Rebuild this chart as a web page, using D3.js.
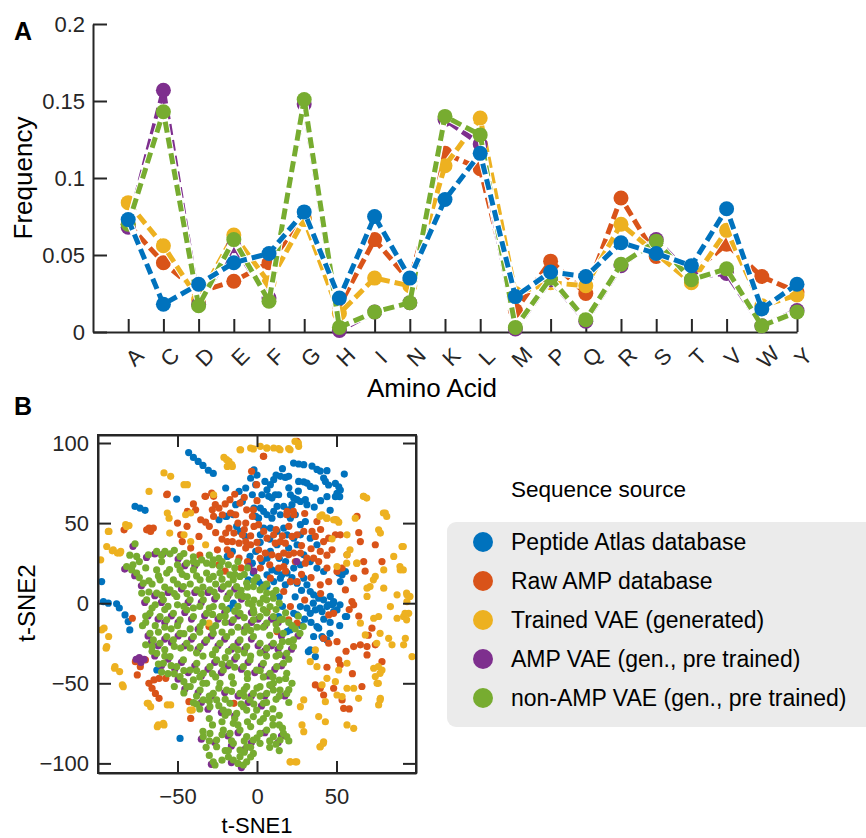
<!DOCTYPE html>
<html lang="en">
<head>
<meta charset="utf-8">
<title>Amino acid frequency and t-SNE</title>
<script src="https://cdn.jsdelivr.net/npm/d3@7"></script>
<style>
body { margin: 0; background: #fff; }
text { font-family: "Liberation Sans", Arial, sans-serif; fill: #000; }
.axis path, .axis line { stroke: #262626; stroke-width: 2; }
.axis text { font-size: 22px; fill: #262626; }
</style>
</head>
<body>
<script>
// ---- data: panel A ----
var aminoAcids = ["A","C","D","E","F","G","H","I","N","K","L","M","P","Q","R","S","T","V","W","Y"];
var atlasFreq  = [0.073,0.018,0.031,0.045,0.051,0.078,0.022,0.075,0.035,0.086,0.116,0.023,0.039,0.036,0.058,0.051,0.043,0.080,0.015,0.031];
var rawAmpFreq = [0.070,0.045,0.026,0.033,0.045,0.074,0.017,0.060,0.033,0.116,0.106,0.014,0.046,0.025,0.087,0.049,0.038,0.057,0.036,0.026];
var trainedFreq= [0.084,0.056,0.021,0.063,0.032,0.073,0.012,0.035,0.030,0.108,0.139,0.025,0.032,0.030,0.070,0.051,0.032,0.066,0.017,0.024];
var ampVaeFreq = [0.068,0.157,0.018,0.056,0.022,0.148,0.001,0.013,0.019,0.138,0.122,0.002,0.034,0.007,0.043,0.060,0.036,0.038,0.004,0.014];
var nonAmpFreq = [0.070,0.143,0.017,0.060,0.020,0.151,0.003,0.013,0.019,0.140,0.128,0.003,0.035,0.008,0.044,0.059,0.034,0.041,0.004,0.013];
var freqTicks = [0, 0.05, 0.1, 0.15, 0.2];

// ---- data: panel B (t-SNE1, t-SNE2) ----
var atlasPts = [[-43,94],[-40,91],[-37,88.5],[-34,86],[-30.6,83],[-27.5,81],
[-76.7,60.4],[-73.6,59.4],[-70.4,58],[-50.5,65],
[-97.7,13.5],[-96.6,1],[-93.5,0],[-88.3,-0.4],[-86.6,-3],[-83,-7.3],[-81,-11.5],[-80,-16.7],
[-63,-41.7],[-48.4,-84.4],
[23,87.5],[26.2,86.9],[29.4,86.5],[34.6,85.6],[37.7,83.5],[39.8,82.5],[44,82.7],
[41.9,78.1],[43,76],[45,73.8],[49.3,74.8],[51.4,72.7],[52.4,70.6],[54.9,80.6],[50.3,68.5],[52,66.5],[49.3,66.5],[44,66.5],
[26.2,76],[29.4,75.8],[31.4,75],[33.5,72.9],[36.7,71.9],[14.7,79.2],[17.8,78.5],[19.9,79.2],[10.5,77.1],[8.4,74],[6.3,70.8],[3.1,67.7],[7.3,66.7],[9.4,65.6],[11.5,67.7],[13.6,67.7],
[21,67.7],[23.1,65.6],[25.2,64.6],[27.3,63.5],[30.4,64.6],[31.4,61.5],[22,61.5],[19.9,58.3],[16.8,60.4],[12.6,60.4],[10.5,57.3],[6.3,55.2],[4.2,57.3],[2.1,59.4],[1,53.1],[9.4,53.1],[14.7,55.2],[21,53.1],[24.1,55.2],[27.3,49],[30.4,51],[16.8,46.9],[12.6,44.8],[8.4,46.9],[4.2,46.9],[2.1,42.7],[18.9,42.7],[23.1,40.6],[27.3,42.7],[33.5,40.6],[37.7,36.5],[25.2,36.5],[19.9,34.4],[12.6,36.5],[8.4,32.3],[6.3,28.1],[3.1,26],[29.4,30.2],[33.5,26],[37.7,21.9],[41.9,19.8],[27.3,24],[23.1,21.9],[18.9,18.8],[15.7,17.7],[12.6,19.8],[9.4,20.8],[6.3,17.7],[10.5,13.5],[14.7,15.6],[17.8,11.5],[21,13.5],[25.2,12.5],[29.4,15.6],[31.4,11.5],[33.5,7.3],[35.6,5.2],[38.8,3.1],[41.9,2.1],[46.1,4.2],[48.2,1],[51.4,18.8],[53.5,17.7],[52.4,13.5],[55.6,19.8],[6.3,10.4],[3.1,11.5],[1,13.5],
[-19.1,54.2],[-14.9,55.2],[-12.8,47.9],[-10.7,44.8],[-7.5,41.7],[-4.4,29.2],[-2.3,18.8],[-5.5,14.6],[-14.9,0],[-17,-3.1],
[-19.7,71.9],[-11.3,69.8],[-9.2,63.5],[-7.1,71.9],[-2.9,67.7],[-0.8,74],[-1.9,83.3],[-13.4,61.5],[-23.9,52.1],[-19.7,54.2],[-1.9,59.4],[-0.8,54.2],[-15.5,32.3],[-0.8,32.3],[-2.9,25],[-18.7,29.2],
[27.3,-2.1],[31.4,-3.1],[33.5,-6.3],[36.7,-4.2],[40.9,-5.2],[44,-2.1],[47.2,-1],[48.2,-5.2],[50.3,-4.2],[55.6,-8.3],[23.1,-6.3],[25.2,-7.3],[21,-16.7],[18.9,-17.7],[37.7,-14.6],[38.8,-15.6],[35.6,-20.8],[40.9,-20.8],[44,-22.9],[33.5,-29.2],[36.7,-33.3],[11.5,-9.4],[13.6,-8.3],
[35.4,0],[39.6,-3.1],[44.9,-1],[48,0],[52.2,-1],[56.4,-8.3],[41.7,-21.9],[45.9,-18.8],[32.3,-30.2],
[16,84],[12,80],[5,76],[0,80],[-4,78],[20,72],[26,70],[36,60],[40,64],[46,58],[2,38],[8,40],[14,28],[18,26],[22,16],[28,8],[24,4],[30,-10],[42,-10],[46,-12],[52,-14],[28,-14],[34,-12],[16,-2],[14,4]];

var rawAmpPts = [[-56.4,68.1],[-32.3,66.7],[-27.3,66.7],[-26.2,61.5],[-23.9,59.4],[-38.6,58.3],[-35.4,52.1],[-32.3,50.6],[-27.3,54.2],[-21.8,55.2],[-16.6,56.3],[-13.4,55.2],[-7.1,50],[-2.9,54.2],[-1.9,47.9],[-17.6,46.9],[-19.7,43.8],[-14.5,43.8],[-18.7,38.5],[-15.5,38.5],[-11.3,37.5],[-7.1,38.5],[-4,36.5],[-9.2,42.7],[-18.7,33.3],[-16.6,30.2],[-11.3,28.1],[-7.1,34.4],[-24.9,33.3],[-36.5,41.7],[-47,38.5],[-41.7,34.4],[-67.9,46.9],[-66.9,44.8],[-83.6,45.8],[-43.8,57.3],[-48,42.7],[-28.1,58.3],
[4,91.7],[-3.4,82.3],[-0.2,74],[-17,64.6],[-10.7,62.5],[-6.5,58.3],[-2.3,58.3],[-32.7,66.7],[-28.5,68.8],[22.9,57.3],[18.7,55.2],[-56.8,67.7],[-65.2,46.9],[-69.4,45.8],
[25.2,101],[4.2,91.7],[18.9,57.3],[23.1,55.2],[1,49],[4.2,44.8],[6.3,40.6],[10.5,42.7],[11.5,37.5],[14.7,38.5],[17.8,37.5],[22,41.7],[25.2,42.7],[29.4,44.8],[34.6,44.8],[37.7,51],[36.7,41.7],[41.9,38.5],[45.1,40.6],[49.3,42.7],[52.4,42.7],[47.2,33.3],[39.8,32.3],[35.6,28.1],[31.4,28.1],[27.3,31.3],[23.1,31.3],[19.9,30.2],[16.8,31.3],[13.6,29.2],[9.4,30.2],[5.2,31.3],[1,33.3],[2.1,21.9],[13.6,21.9],[16.8,22.9],[24.1,26],[30.4,25],[38.8,26],[44,21.9],[50.3,19.8],[53.5,21.9],[56.6,30.2],[60.8,15.6],[65,38.5],[67.1,26],[74.4,36.5],[78.6,26],[45.1,13.5],[39.8,11.5],[55.6,8.3],[59.7,1],[25.2,13.5],[21,13.5],[16.8,7.3],[8.4,15.6],[49.3,52.1],[62.9,54.2],
[21,-2.1],[45.1,-7.3],[48.2,-6.3],[60.8,-1],[12.6,-17.7],[41.9,-21.9],[45.1,-25],[50.3,-24],[51.4,-35.4],[52.4,-38.5],[60.8,-27.1],[65,-26],[69.2,-27.1],[69.2,-32.3],[72.3,-15.6],[74.4,-26],[78.6,-36.5],[36.7,-51],[39.8,-53.1],[41.9,-57.3],[53.5,-60.4],[54.5,-65.6],[48.2,-53.1],[25.2,-12.5],[6.3,-5.2],[19.9,-10.4],
[-78.4,-9.4],[-76.5,-36.5],[-73.4,-39.6],[-70.2,-35.4],[-75.3,-44.8],[-68,-50],[-64.8,-47.9],[-61.6,-46.9],[-57.4,-46.9],[-66,-53.1],[-63.9,-56.3],[-61.6,-59.4],[-42.8,-61.5],[-41.7,-71.9],[-14.5,-62.5],[-30.2,-14.6],
[-30,48],[-26,44],[-22,40],[-12,50],[-8,46],[-4,42],[-24,24],[-20,20],[-36,30],[-10,22],[-6,26],[0,38],[2,28],[8,24],[12,46],[16,42],[20,48],[28,36],[34,34],[40,46],[44,30],[30,56],[-40,62],[-44,48],[-50,50],[-20,62],[-14,68],[-8,66],[0,64],[18,20],[28,18],[34,16],[40,6],[30,2],[64,44],[68,20],[58,-4],[64,-8],[70,-20],[56,-30],[44,-40],[60,-44],[66,-52],[58,-66]];

var trainedPts = [[-10.3,95.8],[-4,96.9],[-20.8,91],[-17.6,88.5],[-15.5,85.4],[-18.7,85.4],[-58.5,81.3],[-54.3,79.2],[-67.9,69.8],[-43.8,74],[-45.9,74],[-27.3,67.7],[-56.4,56.3],[-55.3,53.1],[-44.9,55.2],[-41.7,56.3],[-82.6,49],[-80.5,48.5],[-93.1,44.8],[-54.9,43.8],[-45.9,42.7],[-32.3,36.5],[-41.7,38.5],[-91,32.7],[-87.8,31.3],[-85.7,32.3],[-98.3,27.1],
[2.1,97.9],[6.3,96.9],[10.5,96.9],[13.6,96.5],[19.9,96.5],[26.2,97.9],[67.1,66.7],[40.9,55.2],[44,53.1],[48.2,52.1],[51.4,50.6],[61.8,53.1],[80.7,56.3],[76.5,45.8],[77.6,43.8],[56.6,42.7],[47.2,40.2],[91.2,35.4],[86,29.2],[56.6,30.2],[50.3,22.9],[62.9,25],[74.4,16.7],[79.7,20.8],[90.1,20.8],[69.2,9.4],[69.2,4.2],[79.7,9.4],[88.1,5.2],[94.3,5.2],[94.3,1],
[73.4,-9.4],[76.5,-8.3],[83.9,-2.1],[88.1,-9.4],[92.2,-8.3],[95.4,-6.3],[65,-12.5],[68.1,-19.8],[82.8,-21.9],[84.9,-26],[92.2,-26],[93.3,-21.9],[97.5,-33.3],[33.5,-36.5],[37.7,-39.6],[51.4,-41.7],[56.6,-37.5],[73.4,-40.6],[74.4,-45.8],[78.6,-41.7],[75.5,-50],[44,-46.9],[40.9,-51],[49.3,-49],[50.3,-57.3],[53.5,-58.3],[43,-61.5],[56.6,-53.1],[60.8,-53.1],[63.9,-59.4],[77.6,-59.4],[76.5,-63.5],[29.4,-60.4],[27.3,-64.6],[38.8,-70.8],[43,-74],[39.8,-89.6],[41.9,-86.5],[28.3,-76],[29.4,-80.2],[56.6,-76],[60.8,-78.1],[21,-99],[24.1,-99],[36.7,-29.2],
[-96.2,-15.6],[-93.3,-20.8],[-94.9,-28.1],[-89.6,-40.6],[-86.4,-42.7],[-84.7,-51],[-69,-62.5],[-66.9,-64.6],[-56.4,-63.5],[-54.3,-63.5],[-62.7,-77.1],[-58.5,-76],[-39.6,-62.5],[-40.7,-66.7],[-30.2,-12.5],
[79.5,56.3],[81.6,54.2],[69,65.6],[66.9,66.7],[92,35.4],[89.9,22.9],[92,20.8],[94.1,6.3],[96.2,4.2],[93.1,-6.3],[94.1,-10.4],[77.4,-18.8],[75.3,-25],[76.3,-39.6],[77.4,-43.8],[76.3,-50],[77.4,-60.4],[73.2,14.6],[71.1,10.4],[58.5,33.3],[56.4,25],[62.7,25],[39.6,54.2],[43.8,53.1],[50.1,52.1],
[-19.1,89.6],[-15.9,86.5],[-10.7,95.8],[-2.3,96.3],[6.1,96.9],[14.5,95.8],[20.8,95.8],[26,100],[23.9,101],
[-94.5,35.4],[-90.4,33.3],[-86.2,31.3],[-82,47.9],[-93.5,44.8],[-97.7,-16.7],[-94.5,-27.1],[-89.3,-39.6],[-84.1,-52.1],[-68.3,-62.5],[-62.1,-76],[-58.9,-75],[-42.1,-66.7],
[20.8,-99],[25,-99],[39.6,-89.6],[41.7,-87.5]];

var ampVaePts = [[-78,35.5],[-69.5,28.6],[-64.3,30.7],[-59.1,30.7],[-49.6,27.6],[-45.4,23.4],[-39.1,23.4],[-83.2,21.3],[-76.9,17.2],[-72.7,10.9],[-70.6,0.5],[-64.3,4.7],[-60.1,0.5],[-55.9,6.7],[-47.5,8.8],[-43.3,0.5],[-39.1,6.7],[-35,0.5],[-30.8,6.7],[-26.6,2.6],[-22.4,8.8],[-18.2,4.7],[-14,8.8],[-9.8,2.6],[-3.5,-5.8],
[-68.5,-7.9],[-62.2,-9.9],[-58,-12],[-53.8,-7.9],[-49.6,-12],[-45.4,-5.8],[-41.2,-9.9],[-37,-16.2],[-32.9,-7.9],[-24.5,-9.9],[-20.3,-5.8],[-16.1,-12],[-11.9,-7.9],[-7.7,-16.2],[-3.5,-12],[0.7,-9.9],[4.9,-14.1],[9.1,-9.9],[13.3,-12],[15.4,-20.4],
[-68.5,-20.4],[-66.4,-24.5],[-62.2,-26.6],[-58,-22.4],[-53.8,-24.5],[-49.6,-20.4],[-45.4,-26.6],[-41.2,-22.4],[-37,-28.7],[-32.9,-24.5],[-28.7,-20.4],[-24.5,-26.6],[-20.3,-22.4],[-16.1,-28.7],[-11.9,-24.5],[-7.7,-28.7],[-3.5,-22.4],[0.7,-26.6],[4.9,-29.7],[9.1,-26.6],[13.3,-28.7],[17.5,-32.9],[21.7,-28.7],[25.8,-20.4],
[-64.3,-32.9],[-60.1,-39.1],[-55.9,-34.9],[-51.7,-41.2],[-47.5,-37],[-43.3,-43.3],[-39.1,-39.1],[-35,-45.4],[-30.8,-41.2],[-26.6,-37],[-22.4,-43.3],[-18.2,-39.1],[-14,-34.9],[-9.8,-41.2],[-5.6,-37],[-1.4,-43.3],[2.8,-39.1],[7,-45.4],[11.2,-41.2],[15.4,-39.1],
[-49.6,-47.4],[-45.4,-53.7],[-37,-55.8],[-28.7,-57.9],[-20.3,-55.8],[-11.9,-57.9],[-3.5,-57.9],[4.9,-57.9],[9.1,-51.6],[17.5,-57.9],[-35,-62],[-30.8,-66.2],[-22.4,-68.3],[-14,-70.4],[-5.6,-62],[2.8,-64.1],
[-35,-84.9],[-26.6,-87],[-18.2,-82.9],[-11.9,-80.8],[-3.5,-87],[4.9,-80.8],[13.3,-87],[15.4,-82.9],[-16.1,-89.1],[-7.7,-91.2],[-28.7,-100.6],[-16.1,-99.5],[-9.8,-102.6],
[-76,-35],[-73,-37],[-71,-35],[-74,-34],[25,26],[-5,23],[-2,20]];

var nonAmpPts = [[-76.7,37.1],[-68.3,30.2],[-63.1,32.3],[-57.9,32.3],[-54.7,30.8],[-48.4,29.2],[-44.2,25],[-37.9,25],[-34.8,27.1],[-31.7,25],
[-82,22.9],[-78.8,20.8],[-75.7,18.8],[-71.5,12.5],[-72.5,6.3],[-69.4,2.1],[-63.1,20.8],[-61,14.6],[-56.8,18.8],[-52.6,14.6],[-48.4,20.8],[-44.2,16.7],[-40,20.8],[-35.8,14.6],[-31.7,18.8],[-27.5,16.7],[-23.3,18.8],[-17,17.7],[-10.7,16.7],[-6.5,12.5],[-2.3,10.4],[1.9,8.3],[6.1,6.3],[10.3,3.1],[6.1,2.1],[1.9,0],[8.2,-2.1],
[-63.1,6.3],[-58.9,2.1],[-54.7,8.3],[-50.5,4.2],[-46.3,10.4],[-42.1,2.1],[-37.9,8.3],[-33.8,2.1],[-29.6,8.3],[-25.4,4.2],[-21.2,10.4],[-17,6.3],[-12.8,10.4],[-8.6,4.2],[-5.5,0],[-2.3,-4.2],
[-67.3,-6.3],[-61,-8.3],[-56.8,-10.4],[-52.6,-6.3],[-48.4,-10.4],[-44.2,-4.2],[-40,-8.3],[-35.8,-14.6],[-31.7,-6.3],[-27.5,-2.1],[-23.3,-8.3],[-19.1,-4.2],[-14.9,-10.4],[-10.7,-6.3],[-6.5,-14.6],[-2.3,-10.4],[1.9,-8.3],[6.1,-12.5],[10.3,-8.3],[14.5,-10.4],[16.6,-18.8],[12.4,-16.7],
[-67.3,-18.8],[-65.2,-22.9],[-61,-25],[-56.8,-20.8],[-52.6,-22.9],[-48.4,-18.8],[-44.2,-25],[-40,-20.8],[-35.8,-27.1],[-31.7,-22.9],[-27.5,-18.8],[-23.3,-25],[-19.1,-20.8],[-14.9,-27.1],[-10.7,-22.9],[-6.5,-27.1],[-2.3,-20.8],[1.9,-25],[6.1,-28.1],[10.3,-25],[14.5,-27.1],[18.7,-31.3],[22.9,-27.1],[27,-18.8],[22.9,-22.9],
[-63.1,-31.3],[-58.9,-37.5],[-54.7,-33.3],[-50.5,-39.6],[-46.3,-35.4],[-42.1,-41.7],[-37.9,-37.5],[-33.8,-43.8],[-29.6,-39.6],[-25.4,-35.4],[-21.2,-41.7],[-17,-37.5],[-12.8,-33.3],[-8.6,-39.6],[-4.4,-35.4],[-0.2,-41.7],[4,-37.5],[8.2,-43.8],[12.4,-39.6],[16.6,-37.5],[18.7,-43.8],
[-48.4,-45.8],[-44.2,-52.1],[-40,-47.9],[-35.8,-54.2],[-31.7,-50],[-27.5,-56.3],[-23.3,-50],[-19.1,-54.2],[-14.9,-50],[-10.7,-56.3],[-6.5,-52.1],[-2.3,-56.3],[1.9,-52.1],[6.1,-56.3],[10.3,-50],[14.5,-54.2],[18.7,-56.3],[10.3,-54.2],
[-33.8,-60.4],[-29.6,-64.6],[-25.4,-60.4],[-21.2,-66.7],[-17,-62.5],[-12.8,-68.8],[-8.6,-64.6],[-4.4,-60.4],[-0.2,-66.7],[4,-62.5],[6.1,-68.8],[-2.3,-70.8],[-6.5,-66.7],
[-33.8,-83.3],[-29.6,-81.3],[-25.4,-85.4],[-21.2,-79.2],[-17,-81.3],[-14.9,-75],[-10.7,-79.2],[-6.5,-83.3],[-2.3,-85.4],[1.9,-81.3],[6.1,-79.2],[10.3,-83.3],[14.5,-85.4],[16.6,-81.3],[-25.4,-89.6],[-14.9,-87.5],[-10.7,-91.7],[-6.5,-89.6],[-2.3,-93.8],[-27.5,-99],[-26.4,-101],[-14.9,-97.9],[-8.6,-101],[-6.5,-99],[-10.7,-95.8],[18.7,-83.3],[1.9,-87.5],
[-75.7,29.2],[-27.5,27.1],[-23.3,22.9],[-14.9,14.6],[29.1,-14.6],
[-64,-14],[-58,-15],[-50,-14],[-42,-16],[-34,-12],[-26,-14],[-20,-12],[-12,-15],[-4,-17],[4,-15],[12,-13],[20,-12],
[-58,-29],[-48,-28],[-38,-31],[-28,-32],[-18,-30],[-8,-31],[2,-31],[12,-33],[20,-35],
[-52,-44],[-46,-49],[-36,-46],[-26,-46],[-16,-46],[-6,-47],[4,-46],[14,-48],[22,-50],
[-38,-58],[-30,-58],[-20,-60],[-8,-58],[2,-58],[12,-60],[20,-62],
[-30,-72],[-22,-74],[-14,-72],[-6,-74],[2,-74],[10,-72],[14,-76],
[-32,-90],[-20,-92],[-4,-90],[8,-90],[14,-92],[-18,-96],
[-66,12],[-58,10],[-50,12],[-42,12],[-34,10],[-26,12],[-18,12],[-10,8],[-2,2],[4,-4],[-64,-1],[-56,-2],[-46,-2],[-36,-2],[-28,-7],[-20,-8],[-12,-2],[-6,4],[-70,22],[-60,26],[-50,24],[-40,26],[-30,30],[-24,28],[-18,24],[-12,26],[-6,22],[0,16],[6,12],[12,8],[14,0],[18,-6],[22,-14],[26,-8],
[-78,24],[-74,26],[-80,30],[-70,-8],[-72,-14],[-70,-26],[-66,-30],[-62,-38],[-56,-44],[-52,-52],[-46,-56],[-40,-62],[-36,-66],
[-60,30],[-52,33],[-46,31],[-40,29],[-28,24],[-22,26],[-14,22],[-8,18],[-2,14],[4,10],[10,6],
[-74,16],[-68,14],[-62,17],[-55,21],[-47,18],[-38,17],[-30,15],[-22,15],[-14,18],[-6,10],
[-68,7],[-60,5],[-52,6],[-44,6],[-35,6],[-27,7],[-19,3],[-12,5],[-3,-1],[4,3],[12,-4],
[-66,-3],[-58,-4],[-50,-1],[-40,-3],[-30,-3],[-22,-2],[-14,-5],[-8,-9],[-2,-6],[6,-6],[16,-10],
[-70,-12],[-62,-18],[-54,-16],[-46,-19],[-36,-18],[-28,-16],[-22,-18],[-16,-18],[-8,-18],[0,-15],[8,-20],[16,-24],[24,-16],
[-66,-27],[-58,-33],[-52,-27],[-42,-28],[-34,-33],[-26,-29],[-20,-34],[-12,-29],[-4,-33],[6,-33],[14,-32],[20,-24],
[-60,-43],[-54,-39],[-46,-42],[-38,-42],[-28,-44],[-22,-38],[-14,-40],[-6,-44],[2,-42],[10,-46],[18,-47],
[-42,-52],[-34,-50],[-24,-53],[-16,-55],[-8,-54],[0,-53],[8,-51],[14,-58],[20,-54],
[-38,-63],[-30,-61],[-24,-64],[-18,-68],[-10,-63],[-2,-63],[6,-62],[10,-66],[14,-70],
[-28,-76],[-20,-70],[-12,-76],[-4,-77],[4,-72],[10,-76],[16,-78],[-34,-80],
[-30,-86],[-22,-82],[-16,-86],[-8,-86],[0,-84],[8,-86],[12,-88],[20,-86],
[-30,-95],[-22,-98],[-18,-92],[-12,-100],[-4,-96],[-8,-93]];

var tsneTicks = [-50, 0, 50];
var tsneYTicks = [-100, -50, 0, 50, 100];

var seriesNames = ["Peptide Atlas database", "Raw AMP database", "Trained VAE (generated)",
                   "AMP VAE (gen., pre trained)", "non-AMP VAE (gen., pre trained)"];
var colors = ["#0072BD", "#D95319", "#EDB120", "#7E2F8E", "#77AC30"];

var svg = d3.select("body").append("svg")
    .attr("width", 866)
    .attr("height", 838);

// ================= Panel A =================
var xA = d3.scaleLinear().domain([0, 20]).range([93, 797]);
var yA = d3.scaleLinear().domain([0, 0.2]).range([332, 24]);

svg.append("g")
    .attr("class", "axis")
    .attr("transform", "translate(0,332)")
    .call(d3.axisBottom(xA)
        .tickValues(d3.range(1, 21))
        .tickSizeInner(-13).tickSizeOuter(0)
        .tickFormat(function(i) { return aminoAcids[i - 1]; }))
    .selectAll("text")
    .attr("y", 0).attr("dy", null)
    .attr("text-anchor", "middle")
    .attr("dominant-baseline", "central")
    .attr("transform", "translate(6,25) rotate(-45)");

svg.append("g")
    .attr("class", "axis")
    .attr("transform", "translate(93,0)")
    .call(d3.axisLeft(yA)
        .tickValues(freqTicks)
        .tickSizeInner(-14).tickSizeOuter(0).tickPadding(8)
        .tickFormat(function(d) { return String(d); }));

var lineA = d3.line()
    .x(function(d, i) { return xA(i + 1); })
    .y(function(d) { return yA(d); });

// draw order: orange, yellow, purple, green, blue on top
var freqSeries = [atlasFreq, rawAmpFreq, trainedFreq, ampVaeFreq, nonAmpFreq];
[1, 2, 3, 4, 0].forEach(function(k) {
    var g = svg.append("g");
    g.append("path")
        .attr("d", lineA(freqSeries[k]))
        .attr("fill", "none")
        .attr("stroke", "#fff")
        .attr("stroke-width", 7)
        .attr("stroke-linejoin", "round");
    g.append("path")
        .attr("d", lineA(freqSeries[k]))
        .attr("fill", "none")
        .attr("stroke", colors[k])
        .attr("stroke-width", 5)
        .attr("stroke-dasharray", "11,5");
    g.selectAll("circle")
        .data(freqSeries[k])
        .enter()
        .append("circle")
        .attr("cx", function(d, i) { return xA(i + 1); })
        .attr("cy", function(d) { return yA(d); })
        .attr("r", 7.5)
        .attr("fill", colors[k]);
});

svg.append("text")
    .attr("transform", "translate(32,178) rotate(-90)")
    .attr("text-anchor", "middle")
    .style("font-size", "26px")
    .text("Frequency");

svg.append("text")
    .attr("x", 432).attr("y", 397)
    .attr("text-anchor", "middle")
    .style("font-size", "26px")
    .text("Amino Acid");

svg.append("text")
    .attr("x", 14).attr("y", 40)
    .style("font-size", "25px").style("font-weight", "bold")
    .text("A");

// ================= Panel B =================
var xB = d3.scaleLinear().domain([-100, 100]).range([98, 416]);
var yB = d3.scaleLinear().domain([-106, 105]).range([773, 435]);

svg.append("text")
    .attr("x", 14).attr("y", 415)
    .style("font-size", "25px").style("font-weight", "bold")
    .text("B");

var ptSeries = [atlasPts, rawAmpPts, trainedPts, ampVaePts, nonAmpPts];
ptSeries.forEach(function(pts, k) {
    svg.append("g").selectAll("circle")
        .data(pts)
        .enter()
        .append("circle")
        .attr("cx", function(d) { return xB(d[0]); })
        .attr("cy", function(d) { return yB(d[1]); })
        .attr("r", 3.6)
        .attr("fill", colors[k]);
});

svg.append("g")
    .attr("class", "axis")
    .attr("transform", "translate(0,773)")
    .call(d3.axisBottom(xB).tickValues(tsneTicks)
        .tickSizeInner(-12).tickSizeOuter(0).tickPadding(15)
        .tickFormat(d3.format("d")));
svg.append("g")
    .attr("class", "axis")
    .attr("transform", "translate(0,435)")
    .call(d3.axisTop(xB).tickValues(tsneTicks)
        .tickSizeInner(-12).tickSizeOuter(0).tickFormat(""));
svg.append("g")
    .attr("class", "axis")
    .attr("transform", "translate(98,0)")
    .call(d3.axisLeft(yB).tickValues(tsneYTicks)
        .tickSizeInner(-13).tickSizeOuter(0).tickPadding(9)
        .tickFormat(d3.format("d")));
svg.append("g")
    .attr("class", "axis")
    .attr("transform", "translate(416,0)")
    .call(d3.axisRight(yB).tickValues(tsneYTicks)
        .tickSizeInner(-13).tickSizeOuter(0).tickFormat(""));

svg.append("rect")
    .attr("x", 98).attr("y", 435)
    .attr("width", 318).attr("height", 338)
    .attr("fill", "none")
    .attr("stroke", "#262626")
    .attr("stroke-width", 2);

svg.append("text")
    .attr("x", 257).attr("y", 833)
    .attr("text-anchor", "middle")
    .style("font-size", "22px")
    .text("t-SNE1");

svg.append("text")
    .attr("transform", "translate(35,603) rotate(-90)")
    .attr("text-anchor", "middle")
    .style("font-size", "24px")
    .text("t-SNE2");

// legend
svg.append("text")
    .attr("x", 511).attr("y", 497)
    .style("font-size", "22.5px")
    .text("Sequence source");

svg.append("rect")
    .attr("x", 447).attr("y", 522)
    .attr("width", 440).attr("height", 205)
    .attr("rx", 9)
    .attr("fill", "#ebebeb");

var leg = svg.append("g").selectAll("g")
    .data(seriesNames)
    .enter()
    .append("g")
    .attr("transform", function(d, i) { return "translate(0," + (550 + i * 39) + ")"; });
leg.append("circle")
    .attr("cx", 483).attr("cy", -8)
    .attr("r", 10)
    .attr("fill", function(d, i) { return colors[i]; });
leg.append("text")
    .attr("x", 511).attr("y", 0)
    .style("font-size", "23px")
    .text(function(d) { return d; });
</script>
</body>
</html>
